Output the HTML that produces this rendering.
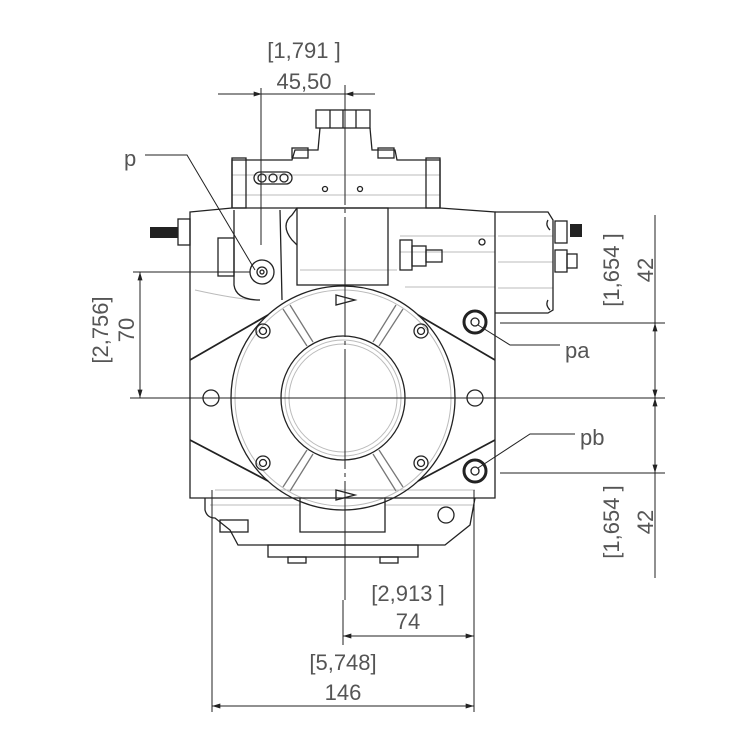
<!DOCTYPE html>
<html><head><meta charset="utf-8"><style>
html,body{margin:0;padding:0;background:#fff;width:750px;height:750px;overflow:hidden}
svg{display:block}
text{font-family:"Liberation Sans",sans-serif;fill:#555;font-size:22px}
</style></head><body>
<svg width="750" height="750" viewBox="0 0 750 750" xmlns="http://www.w3.org/2000/svg">
<defs>
<marker id="a" viewBox="0 0 10 6" refX="10" refY="3" markerWidth="14" markerHeight="5" orient="auto-start-reverse" markerUnits="userSpaceOnUse"><path d="M0,0L10,3L0,6z" fill="#222"/></marker>
</defs>
<g fill="none" stroke="#bbb" stroke-width="1">
<path d="M232,175H440M232,195H440M300,270H397M400,236H495M400,252H495M405,287H495M498,236H553M498,262H553M498,288H553"/>
<path d="M195,290Q240,300 260,300M210,505H300M385,505H475M215,490H475"/>
<circle cx="343" cy="398" r="54"/>
<circle cx="343" cy="398" r="58"/>
<circle cx="343" cy="398" r="108"/>
</g>
<g fill="none" stroke="#222" stroke-width="1.3">
<rect x="316" y="110" width="54" height="18"/>
<path d="M330,110V128M343,110V128M356,110V128"/>
<path d="M320,128L318,150L295,150L292,160H232V208M370,128L372,150L395,150L397,160H440V208"/>
<rect x="292" y="148" width="16" height="10"/>
<rect x="378" y="148" width="16" height="10"/>
<rect x="232" y="158" width="14" height="50"/>
<rect x="426" y="158" width="14" height="50"/>
<path d="M260,172h26a6,6 0 0 1 0,12h-26a6,6 0 0 1 0,-12z"/>
<circle cx="262" cy="178" r="4"/><circle cx="273" cy="178" r="4"/><circle cx="284" cy="178" r="4"/>
<circle cx="325" cy="189" r="2.5"/><circle cx="360" cy="189" r="2.5"/>
<path d="M190,212L232,208H440L495,212V498H190Z"/>
<rect x="297" y="208" width="91" height="77"/>
<path d="M297,208L292,215Q280,225 292,240L297,245"/>
<path d="M495,212H548L553,220V310L548,313H495"/>
<path d="M548,220Q545,225 550,230M548,300Q545,305 550,310"/>
<rect x="555" y="221" width="12" height="22"/><rect x="555" y="250" width="12" height="22"/>
<rect x="567" y="254" width="10" height="14"/>
<rect x="400" y="240" width="12" height="30"/><rect x="412" y="246" width="14" height="20"/><rect x="426" y="250" width="16" height="12"/>
<circle cx="482" cy="242" r="3"/>
<rect x="178" y="219" width="12" height="26"/>
<rect x="218" y="238" width="16" height="38"/>
<path d="M234,210V285Q236,300 260,300M280,210L282,300"/>
<circle cx="262" cy="272" r="12"/><circle cx="262" cy="272" r="5"/><circle cx="262" cy="272" r="2"/>
<circle cx="343" cy="398" r="112"/>
<circle cx="343" cy="398" r="62"/>
<path d="M190,360L268,315M190,440L268,481M495,360L418,315M495,440L418,481" stroke-width="1.8"/>
<g stroke="#777">
<path d="M307,346L283,309M313,342L290,305M379,346L403,309M373,342L396,305"/>
<path d="M307,450L283,487M313,454L290,491M379,450L403,487M373,454L396,491"/>
</g>
<path d="M232,398H281M405,398H455" stroke="#888"/>
<path d="M336,295l19,5l-19,5z M336,490l19,5l-19,5z"/>
<circle cx="263" cy="331" r="7"/><circle cx="263" cy="331" r="3.5"/>
<circle cx="421" cy="331" r="7"/><circle cx="421" cy="331" r="3.5"/>
<circle cx="263" cy="463" r="7"/><circle cx="263" cy="463" r="3.5"/>
<circle cx="421" cy="463" r="7"/><circle cx="421" cy="463" r="3.5"/>
<circle cx="211" cy="398" r="8"/><circle cx="475" cy="398" r="8"/>
<circle cx="475" cy="322" r="11" stroke-width="3"/><circle cx="475" cy="322" r="4"/>
<circle cx="475" cy="471" r="11" stroke-width="3"/><circle cx="475" cy="471" r="4"/>
<path d="M205,498V510Q207,518 215,518L230,530L238,545H445L470,525L475,498"/>
<path d="M300,498V532H385V498"/>
<rect x="268" y="545" width="150" height="12"/>
<rect x="288" y="557" width="18" height="6"/><rect x="380" y="557" width="18" height="6"/>
<rect x="220" y="520" width="28" height="12"/>
<circle cx="446" cy="515" r="8"/>
</g>
<rect x="150" y="227" width="28" height="11" fill="#222"/>
<rect x="570" y="224" width="12" height="13" fill="#222"/>
<g stroke="#222" stroke-width="1" fill="none">
<path d="M345,85V600" stroke-dasharray="120,4,4,4"/>
<path d="M130,398H665"/>
<path d="M261,88V245M218,94H375"/>
<path d="M218,94H262" marker-end="url(#a)"/>
<path d="M375,94H345" marker-end="url(#a)"/>
<path d="M133,272H250"/>
<path d="M140,272V398" marker-start="url(#a)" marker-end="url(#a)"/>
<path d="M500,323H665M500,473H665"/>
<path d="M655,215V578"/>
<path d="M655,323V398" marker-start="url(#a)" marker-end="url(#a)"/>
<path d="M655,398V473" marker-start="url(#a)" marker-end="url(#a)"/>
<path d="M212,490V712M474,490V712M343,600V645"/>
<path d="M343,636H474" marker-start="url(#a)" marker-end="url(#a)"/>
<path d="M212,706H474" marker-start="url(#a)" marker-end="url(#a)"/>
<path d="M145,155H187L255,270"/>
<path d="M478,325L510,345H560"/>
<path d="M478,468L530,434H575"/>
</g>
<text x="304" y="58" text-anchor="middle">[1,791 ]</text>
<text x="304" y="89" text-anchor="middle">45,50</text>
<text x="124" y="166" font-size="24">p</text>
<text x="565" y="358" font-size="24">pa</text>
<text x="580" y="445" font-size="24">pb</text>
<text transform="translate(108,330) rotate(-90)" text-anchor="middle">[2,756]</text>
<text transform="translate(134,330) rotate(-90)" text-anchor="middle">70</text>
<text transform="translate(619,270) rotate(-90)" text-anchor="middle">[1,654 ]</text>
<text transform="translate(653,270) rotate(-90)" text-anchor="middle">42</text>
<text transform="translate(619,522) rotate(-90)" text-anchor="middle">[1,654 ]</text>
<text transform="translate(653,522) rotate(-90)" text-anchor="middle">42</text>
<text x="408" y="601" text-anchor="middle">[2,913 ]</text>
<text x="408" y="629" text-anchor="middle">74</text>
<text x="343" y="670" text-anchor="middle">[5,748]</text>
<text x="343" y="700" text-anchor="middle">146</text>
</svg>
</body></html>
